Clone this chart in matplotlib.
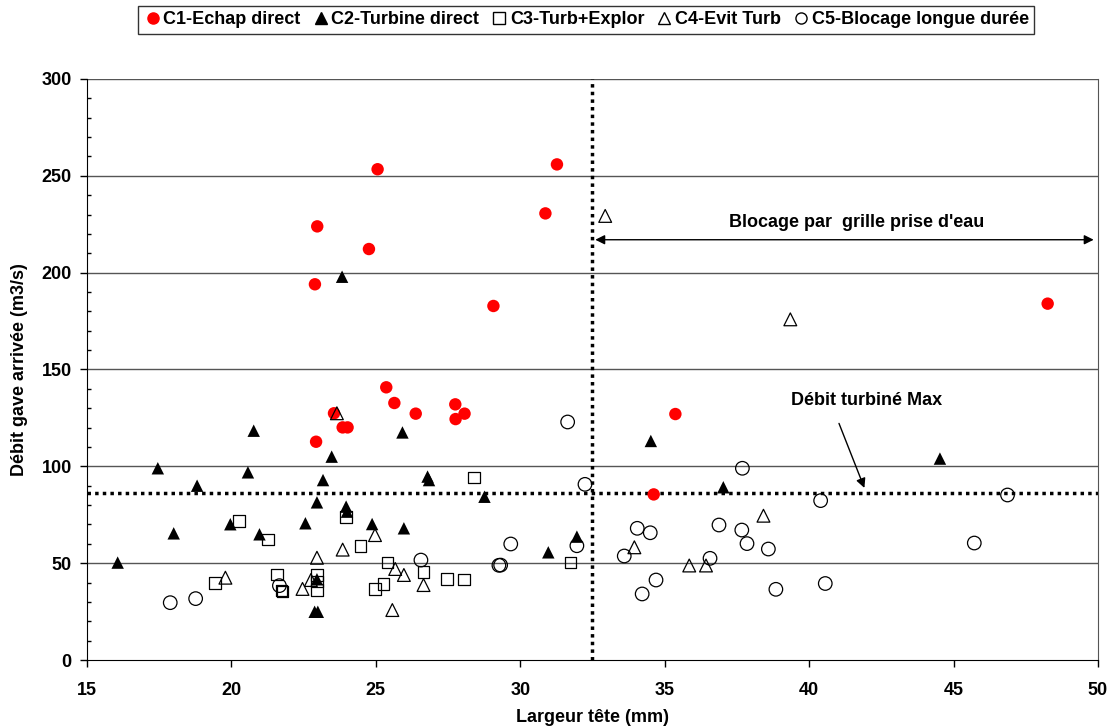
import numpy as np
import matplotlib.pyplot as plt
from matplotlib.lines import Line2D

plt.rcParams['font.family'] = ['Liberation Sans', 'DejaVu Sans']
plt.rcParams['font.weight'] = 'bold'

# C1 - Echap direct
c1_x = [22.97, 22.89, 25.06, 24.76, 31.27, 30.87, 29.07, 48.26, 25.36, 25.64,
        26.38, 27.75, 28.07, 27.76, 23.55, 23.85, 24.02, 22.93, 35.37, 34.62]
c1_y = [223.9, 194.0, 253.4, 212.2, 255.9, 230.6, 182.8, 184.0, 140.8, 132.7,
        127.2, 132.0, 127.2, 124.4, 127.4, 120.1, 120.1, 112.7, 127.0, 85.5]

# C2 - Turbine direct
c2_x = [20.77, 17.45, 20.57, 18.81, 23.47, 23.17, 22.96, 23.97, 24.0, 22.56,
        19.96, 20.97, 18.0, 16.06, 22.96, 22.88, 22.99, 25.92, 26.79, 26.84,
        28.76, 24.87, 25.97, 30.97, 31.96, 23.83, 34.52, 37.03, 44.53]
c2_y = [118.4, 99.0, 96.9, 90.0, 105.0, 92.9, 81.4, 79.2, 76.6, 70.6,
        70.1, 64.9, 65.4, 50.3, 41.7, 24.9, 24.9, 117.5, 94.7, 92.9,
        84.3, 70.2, 68.0, 55.6, 63.7, 197.9, 113.1, 89.2, 104.0]

# C3 - Turb+Explor
c3_x = [20.26, 21.27, 19.43, 21.58, 21.73, 21.77, 22.96, 22.96, 22.96, 28.4,
        24.47, 25.4, 26.65, 25.26, 24.97, 27.46, 28.06, 31.74, 23.97]
c3_y = [71.8, 62.3, 39.9, 44.2, 35.8, 35.3, 43.9, 40.5, 36.1, 94.2,
        59.0, 50.3, 45.6, 39.2, 36.7, 41.8, 41.6, 50.3, 73.7]

# C4 - Evit Turb
c4_x = [19.79, 22.96, 22.46, 22.75, 23.85, 23.65, 24.97, 25.67, 25.97, 26.65,
        25.57, 32.94, 39.35, 33.95, 38.42, 35.85, 36.43]
c4_y = [42.5, 52.8, 36.7, 41.3, 57.0, 127.4, 64.5, 47.0, 43.9, 38.7,
        25.8, 229.3, 175.9, 58.2, 74.5, 48.8, 48.8]

# C5 - Blocage longue duree
c5_x = [17.88, 18.76, 21.66, 31.64, 32.24, 29.67, 26.56, 29.26, 29.32, 31.96,
        37.69, 40.4, 46.87, 45.72, 34.05, 34.5, 33.6, 36.57, 36.88, 37.67,
        37.85, 38.59, 34.7, 34.22, 38.85, 40.56]
c5_y = [29.6, 31.7, 38.4, 122.9, 90.7, 59.9, 51.6, 48.9, 49.0, 59.0,
        99.0, 82.3, 85.2, 60.4, 68.0, 65.7, 53.7, 52.5, 69.7, 67.1,
        60.1, 57.3, 41.3, 34.1, 36.5, 39.5]

q_max = 86
x_limit = 32.5

fig = plt.figure(figsize=(11.09, 7.28), dpi=100)
ax = fig.add_axes([0.0785, 0.0934, 0.9115, 0.7981])

for y in range(50, 301, 50):
    ax.axhline(y, color='#555555', lw=1.0, zorder=0)

ax.scatter(c1_x, c1_y, s=80, marker='o', color='red', edgecolors='none', zorder=3)
ax.scatter(c2_x, c2_y, s=80, marker='^', color='black', edgecolors='none', zorder=3)
ax.scatter(c3_x, c3_y, s=70, marker='s', facecolors='none', edgecolors='black', linewidths=0.9, zorder=3)
ax.scatter(c4_x, c4_y, s=85, marker='^', facecolors='none', edgecolors='black', linewidths=0.9, zorder=3)
ax.scatter(c5_x, c5_y, s=95, marker='o', facecolors='none', edgecolors='black', linewidths=0.9, zorder=3)

ax.axhline(q_max, color='black', lw=2.5, ls=(0, (1, 1.2)), zorder=2)
ax.axvline(x_limit, color='black', lw=2.5, ls=(0, (1, 1.2)), zorder=2)

ax.annotate('', xy=(49.95, 217), xytext=(x_limit, 217),
            arrowprops=dict(arrowstyle='<|-|>', color='black', lw=1, mutation_scale=14))
ax.text(41.65, 226, "Blocage par  grille prise d'eau", ha='center', va='center',
        fontsize=13, fontweight='bold')
ax.text(42.0, 134, 'Débit turbiné Max', ha='center', va='center',
        fontsize=13, fontweight='bold')
ax.annotate('', xy=(41.95, 87.5), xytext=(41.0, 123.5),
            arrowprops=dict(arrowstyle='-|>', color='black', lw=1, mutation_scale=14))

ax.set_xlim(15, 50)
ax.set_ylim(0, 300)
ax.set_xticks(np.arange(15, 51, 5))
ax.set_yticks(np.arange(0, 301, 50))
ax.set_yticks(np.arange(0, 301, 10), minor=True)
ax.tick_params(axis='both', labelsize=13, direction='out', length=5, width=1)
ax.tick_params(axis='x', pad=11)
ax.tick_params(axis='y', pad=6)
ax.tick_params(axis='y', which='minor', direction='in', length=3, width=1)
for lab in ax.get_xticklabels() + ax.get_yticklabels():
    lab.set_fontweight('bold')

ax.spines['top'].set_visible(False)
ax.spines['right'].set_color('#555555')

ax.set_xlabel('Largeur tête (mm)', fontsize=13, fontweight='bold', labelpad=7)
ax.set_ylabel('Débit gave arrivée (m3/s)', fontsize=13, fontweight='bold', labelpad=10)

handles = [
    Line2D([], [], ls='none', marker='o', color='red', markersize=8),
    Line2D([], [], ls='none', marker='^', color='black', markersize=8),
    Line2D([], [], ls='none', marker='s', markerfacecolor='none', markeredgecolor='black', markersize=8),
    Line2D([], [], ls='none', marker='^', markerfacecolor='none', markeredgecolor='black', markersize=9),
    Line2D([], [], ls='none', marker='o', markerfacecolor='none', markeredgecolor='black', markersize=8),
]
labels = ['C1-Echap direct', 'C2-Turbine direct', 'C3-Turb+Explor',
          'C4-Evit Turb', 'C5-Blocage longue durée']
leg = fig.legend(handles, labels, loc='center', bbox_to_anchor=(0.5287, 0.973), ncol=5,
                 frameon=True, fancybox=False, edgecolor='black',
                 handletextpad=0.1, columnspacing=0.6, handlelength=1.0,
                 borderpad=0.3, prop={'weight': 'bold', 'size': 13})
leg.get_frame().set_linewidth(1)

fig.savefig('out.png', dpi=100)
